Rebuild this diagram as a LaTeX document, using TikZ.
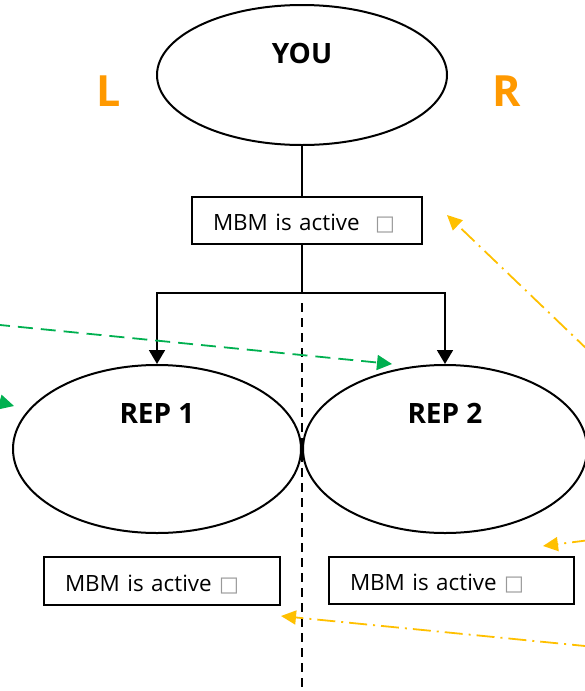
\documentclass[tikz,border=0pt]{standalone}
\usepackage{fontspec}
\setmainfont{Open Sans}
\newfontfamily\symfont{DejaVu Sans}
\usetikzlibrary{arrows.meta,shapes.geometric}
\definecolor{sideorange}{HTML}{FF9900}
\definecolor{repgreen}{HTML}{00B050}
\definecolor{linkgold}{HTML}{FFC000}
\newcommand{\tickbox}{{\symfont\fontsize{10.5}{12}\selectfont\textcolor{black!40}{□}}}

\begin{document}
\begin{tikzpicture}[x=0.5pt,y=-0.5pt,
	person/.style={ ellipse, draw, line width=1pt, inner sep=0pt },
	title/.style={ font=\fontsize{14}{16}\selectfont\bfseries },
	side/.style={ text=sideorange, font=\fontsize{21.5}{24}\selectfont\bfseries },
	status/.style={ draw, line width=0.85pt, inner xsep=0pt, inner ysep=0pt, minimum height=23.75pt, text height=10.4pt, text depth=0pt, align=left, font=\fontsize{11.2}{13}\selectfont, execute at begin node=\hspace*{10.5pt} },
	link/.style={ line width=0.9pt },
	down/.style={ link, -{Triangle[length=7pt,width=8pt]} },
	divider/.style={ line width=0.9pt, dash pattern=on 4.5pt off 3pt },
	hint/.style={ repgreen, line width=0.9pt, dash pattern=on 7.5pt off 4pt, -{Triangle[length=7.5pt,width=7.5pt]} },
	feedback/.style={ linkgold, line width=0.9pt, dash pattern=on 9pt off 3pt on 1pt off 3pt, -{Triangle[length=7.5pt,width=7pt]} }
]
\useasboundingbox (0,0) rectangle (584,691);

\node at (302,75) (you) [person,minimum width=145pt,minimum height=70pt,label={[title,yshift=10.75pt]center:YOU}] {};
\node at (108.5,91.5) (lside) [side] {L};
\node at (507,91.5) (rside) [side] {R};
\node at (307,220.5) (top) [status,text width=115pt] {MBM is active\hspace{4pt} \tickbox};
\node at (157,449) (rep1) [person,minimum width=144pt,minimum height=84pt,label={[title,yshift=17.75pt]center:REP 1}] {};
\node at (445,449) (rep2) [person,minimum width=142pt,minimum height=84pt,label={[title,yshift=17.75pt]center:REP 2}] {};
\node at (162,581) (status1) [status,text width=118pt] {MBM is active \tickbox};
\node at (451.5,580.5) (status2) [status,text width=122.5pt] {MBM is active \tickbox};

\coordinate (split) at (302,293);
\draw[link] (you.south) -- (you.south |- top.north);
\draw[link] (you.south |- top.south) -- (split);
\draw[down] (split) -| (rep1.north);
\draw[down] (split) -| (rep2.north);

\coordinate (divtop) at (302,303);
\coordinate (divbot) at (302,691);
\draw[divider] (divtop) -- (divbot);

% arrows coming in from outside
\coordinate (g1from) at (-5,324.5);
\coordinate (g1to) at (392,364);
\coordinate (g2from) at (-60,386);
\coordinate (g2to) at (14,406);
\draw[hint] (g1from) -- (g1to);
\draw[hint] (g2from) -- (g2to);

\coordinate (o1from) at (590,352);
\coordinate (o1to) at (447,215);
\coordinate (o2from) at (590,540);
\coordinate (o2to) at (543,546);
\coordinate (o3from) at (590,646.5);
\coordinate (o3to) at (281,616);
\draw[feedback] (o1from) -- (o1to);
\draw[feedback] (o2from) -- (o2to);
\draw[feedback] (o3from) -- (o3to);

\end{tikzpicture}
\end{document}
